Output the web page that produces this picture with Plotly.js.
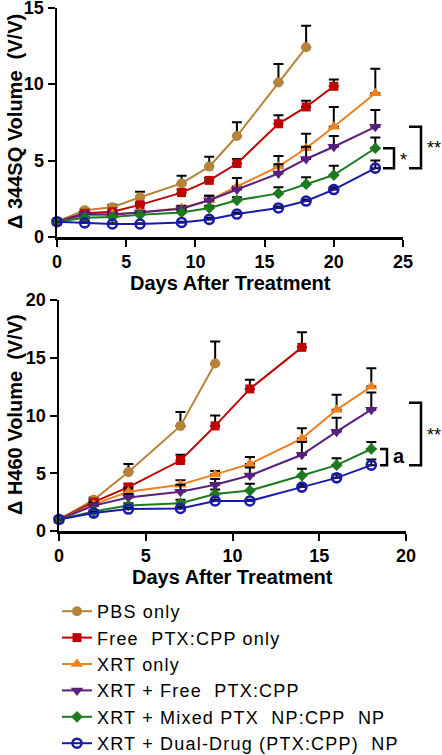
<!DOCTYPE html>
<html>
<head>
<meta charset="utf-8">
<script src="https://cdn.plot.ly/plotly-3.0.1.min.js"></script>
<style>html,body{margin:0;padding:0;background:#fff;}#chart{width:442px;height:755px;}
#chart .legendtext{letter-spacing:1.2px;}
#chart .legend .scrollbox{clip-path:none !important;}</style>
</head>
<body>
<div id="chart"></div>
<script>
// ---------- DATA ----------
const seriesNames = ["PBS only", "Free\u00a0 PTX:CPP only", "XRT only", "XRT + Free\u00a0 PTX:CPP", "XRT + Mixed PTX\u00a0 NP:CPP\u00a0 NP", "XRT + Dual-Drug (PTX:CPP)\u00a0 NP"];

// Panel A: 344SQ
const daysA = [0, 2, 4, 6, 9, 11, 13, 16, 18, 20, 23];
const pbsA      = [1, 1.75, 1.95, 2.6, 3.5, 4.6, 6.6, 10.1, 12.4];
const pbsAErr   = [0, 0.1, 0.15, 0.35, 0.5, 0.65, 0.9, 1.2, 1.4];
const freeA     = [1, 1.55, 1.65, 2.1, 2.9, 3.7, 4.8, 7.4, 8.5, 9.85];
const freeAErr  = [0, 0.1, 0.1, 0.15, 0.2, 0.15, 0.3, 0.55, 0.4, 0.45];
const xrtA      = [1, 1.4, 1.5, 1.6, 1.9, 2.4, 3.3, 4.6, 5.8, 7.2, 9.4];
const xrtAErr   = [0, 0.1, 0.1, 0.1, 0.15, 0.3, 0.55, 0.7, 0.95, 1.3, 1.6];
const xrtFreeA  = [1, 1.5, 1.45, 1.6, 1.85, 2.4, 3.1, 4.15, 5.1, 5.9, 7.2];
const xrtFreeAErr = [0, 0.1, 0.1, 0.1, 0.15, 0.3, 0.75, 0.6, 0.8, 0.7, 1.1];
const mixedA    = [1, 1.25, 1.3, 1.45, 1.6, 1.9, 2.4, 2.85, 3.45, 4.05, 5.8];
const mixedAErr = [0, 0.05, 0.05, 0.1, 0.1, 0.15, 0.2, 0.4, 0.45, 0.6, 0.7];
const dualA     = [1, 0.92, 0.85, 0.85, 0.95, 1.15, 1.5, 1.9, 2.35, 3.1, 4.5];
const dualAErr  = [0, 0.05, 0.05, 0.05, 0.05, 0.1, 0.1, 0.1, 0.1, 0.15, 0.5];

// Panel B: H460
const daysB = [0, 2, 4, 7, 9, 11, 14, 16, 18];
const pbsB      = [1, 2.7, 5.1, 9.1, 14.5];
const pbsBErr   = [0, 0.2, 0.7, 1.2, 1.9];
const freeB     = [1, 2.5, 3.8, 6.1, 9.1, 12.3, 15.9];
const freeBErr  = [0, 0.2, 0.3, 0.5, 0.9, 0.8, 1.3];
const xrtB      = [1, 2.3, 3.4, 4.0, 4.9, 5.8, 8.0, 10.5, 12.5];
const xrtBErr   = [0, 0.2, 0.3, 0.4, 0.3, 0.6, 0.9, 1.3, 1.6];
const xrtFreeB  = [1, 2.2, 2.9, 3.4, 4.0, 4.8, 6.6, 8.6, 10.5];
const xrtFreeBErr = [0, 0.2, 0.3, 0.6, 0.5, 0.7, 1.1, 1.2, 1.5];
const mixedB    = [1, 1.7, 2.2, 2.4, 3.2, 3.5, 4.8, 5.7, 7.1];
const mixedBErr = [0, 0.1, 0.2, 0.3, 0.4, 0.6, 0.6, 0.6, 0.6];
const dualB     = [1, 1.55, 1.9, 1.95, 2.6, 2.6, 3.8, 4.6, 5.7];
const dualBErr  = [0, 0.1, 0.1, 0.1, 0.1, 0.1, 0.2, 0.3, 0.5];

const xTicksA = [0, 5, 10, 15, 20, 25];
const yTicksA = [0, 5, 10, 15];
const xTicksB = [0, 5, 10, 15, 20];
const yTicksB = [0, 5, 10, 15, 20];

// ---------- STYLE ----------
const colors = ["#B5843A", "#C00000", "#EE8020", "#5A1E7E", "#1E7A1E", "#1A1AA8"];
const symbols = ["circle", "square", "triangle-up", "triangle-down", "diamond", "circle-open"];
const sizes = [10, 9, 11, 11, 9, 9];
const FONT = "Liberation Sans, Arial, sans-serif";

const seriesA = [[pbsA, pbsAErr], [freeA, freeAErr], [xrtA, xrtAErr], [xrtFreeA, xrtFreeAErr], [mixedA, mixedAErr], [dualA, dualAErr]];
const seriesB = [[pbsB, pbsBErr], [freeB, freeBErr], [xrtB, xrtBErr], [xrtFreeB, xrtFreeBErr], [mixedB, mixedBErr], [dualB, dualBErr]];

function mkTrace(i, days, vals, errs, xa, ya, showLeg) {
  return {
    type: "scatter", mode: "lines+markers",
    x: days.slice(0, vals.length), y: vals,
    xaxis: xa, yaxis: ya,
    name: seriesNames[i], showlegend: showLeg,
    line: {color: colors[i], width: 2},
    marker: {color: colors[i], symbol: symbols[i], size: sizes[i],
             line: {color: colors[i], width: symbols[i] === "circle-open" ? 2.6 : 0}},
    error_y: {type: "data", symmetric: false, array: errs, arrayminus: errs.map(() => 0),
              color: "#000", thickness: 2, width: 5},
    cliponaxis: false
  };
}

const traces = [];
seriesA.forEach((s, i) => traces.push(mkTrace(i, daysA, s[0], s[1], "x", "y", true)));
seriesB.forEach((s, i) => traces.push(mkTrace(i, daysB, s[0], s[1], "x2", "y2", false)));

const W = 442, H = 755;
const domA = {x: [57 / W, 403 / W], y: [(H - 237) / H, (H - 7.5) / H]};
const domB = {x: [59 / W, 406 / W], y: [(H - 531) / H, (H - 300) / H]};
const rangeA = {x: [0, 25], y: [0, 15]};
const rangeB = {x: [0, 20], y: [0, 20]};

function axis(dom, rng, ticks, anchor) {
  return {
    domain: dom, range: rng, anchor: anchor,
    tickmode: "array", tickvals: ticks, ticktext: ticks.map(String),
    showgrid: false, zeroline: false, showline: true, linecolor: "#000", linewidth: 2.5,
    ticks: "outside", ticklen: 7, tickwidth: 2, tickcolor: "#000",
    tickfont: {family: FONT, size: 18, color: "#000", weight: "bold"},
    ticklabeloverflow: "allow",
    fixedrange: true
  };
}

// helpers: convert data y to paper y for brackets
function pY(v, dom, rng) { return dom[0] + (v - rng[0]) / (rng[1] - rng[0]) * (dom[1] - dom[0]); }
function pX(px) { return px / W; }

function bracket(x1, x2, yTop, yBot) {
  return {type: "path", xref: "paper", yref: "paper",
          path: `M ${x1},${yTop} L ${x2},${yTop} L ${x2},${yBot} L ${x1},${yBot}`,
          line: {color: "#000", width: 2.5}};
}

const lastA = a => a[a.length - 1];
const bracketTopB = 11.1;
const shapes = [
  bracket(pX(383), pX(394), pY(lastA(mixedA), domA.y, rangeA.y), pY(lastA(dualA), domA.y, rangeA.y)),
  bracket(pX(409), pX(421), pY(lastA(xrtFreeA), domA.y, rangeA.y), pY(lastA(dualA), domA.y, rangeA.y)),
  bracket(pX(380), pX(387), pY(lastA(mixedB), domB.y, rangeB.y), pY(lastA(dualB), domB.y, rangeB.y)),
  bracket(pX(409), pX(421), pY(bracketTopB, domB.y, rangeB.y), pY(lastA(dualB), domB.y, rangeB.y))
];

const tf = {family: FONT, size: 20, color: "#000", weight: "bold"};
const annotations = [
  {text: "Δ 344SQ Volume\u00a0 (V/V)", xref: "paper", yref: "paper", x: pX(15), y: (H - 122) / H, xanchor: "center", yanchor: "middle", textangle: -90, showarrow: false, font: tf},
  {text: "Days After Treatment", xref: "paper", yref: "paper", x: pX(230), y: (H - 283) / H, xanchor: "center", yanchor: "middle", showarrow: false, font: tf},
  {text: "Δ H460 Volume\u00a0 (V/V)", xref: "paper", yref: "paper", x: pX(15), y: (H - 415) / H, xanchor: "center", yanchor: "middle", textangle: -90, showarrow: false, font: tf},
  {text: "Days After Treatment", xref: "paper", yref: "paper", x: pX(232), y: (H - 577) / H, xanchor: "center", yanchor: "middle", showarrow: false, font: tf},
  {text: "*", xref: "paper", yref: "paper", x: pX(403), y: (H - 160) / H, xanchor: "center", yanchor: "middle", showarrow: false, font: {family: FONT, size: 18, color: "#000"}},
  {text: "**", xref: "paper", yref: "paper", x: pX(434), y: (H - 148) / H, xanchor: "center", yanchor: "middle", showarrow: false, font: {family: FONT, size: 18, color: "#000"}},
  {text: "a", xref: "paper", yref: "paper", x: pX(399), y: (H - 456) / H, xanchor: "center", yanchor: "middle", showarrow: false, font: {family: FONT, size: 20, color: "#000", weight: "bold"}},
  {text: "**", xref: "paper", yref: "paper", x: pX(434), y: (H - 435) / H, xanchor: "center", yanchor: "middle", showarrow: false, font: {family: FONT, size: 18, color: "#000"}}
];

const layout = {
  width: W, height: H,
  margin: {l: 0, r: 0, t: 0, b: 0, autoexpand: false},
  paper_bgcolor: "#fff", plot_bgcolor: "rgba(0,0,0,0)",
  showlegend: true,
  legend: {x: pX(57), y: (H - 593) / H, xanchor: "left", yanchor: "top",
           font: {family: FONT, size: 18, color: "#000"}, tracegroupgap: 0,
           bgcolor: "rgba(0,0,0,0)", borderwidth: 0},
  xaxis: axis(domA.x, rangeA.x, xTicksA, "y"),
  yaxis: axis(domA.y, rangeA.y, yTicksA, "x"),
  xaxis2: axis(domB.x, rangeB.x, xTicksB, "y2"),
  yaxis2: axis(domB.y, rangeB.y, yTicksB, "x2"),
  shapes: shapes,
  annotations: annotations
};

Plotly.newPlot("chart", traces, layout, {displayModeBar: false, staticPlot: true});
</script>
</body>
</html>
